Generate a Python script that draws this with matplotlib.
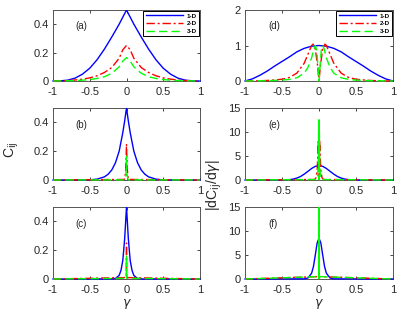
import matplotlib
matplotlib.use("Agg")
import matplotlib.pyplot as plt
from matplotlib.transforms import Bbox, TransformedBbox

# ---- data ----
# (a) C_ij, wide
ga = [-1, -0.9, -0.8, -0.7, -0.6, -0.5, -0.4, -0.3, -0.2, -0.1, -0.05, 0,
      0.05, 0.1, 0.2, 0.3, 0.4, 0.5, 0.6, 0.7, 0.8, 0.9, 1]
a1 = [0, 0.001, 0.006, 0.02, 0.048, 0.09, 0.15, 0.225, 0.31, 0.40, 0.45, 0.5,
      0.45, 0.40, 0.31, 0.225, 0.15, 0.09, 0.048, 0.02, 0.006, 0.001, 0]
a2 = [0, 0.001, 0.003, 0.007, 0.013, 0.022, 0.037, 0.06, 0.095, 0.16, 0.22, 0.25,
      0.22, 0.16, 0.095, 0.06, 0.037, 0.022, 0.013, 0.007, 0.003, 0.001, 0]
a3 = [0, 0.0005, 0.0015, 0.003, 0.006, 0.01, 0.018, 0.03, 0.055, 0.10, 0.14, 0.165,
      0.14, 0.10, 0.055, 0.03, 0.018, 0.01, 0.006, 0.003, 0.0015, 0.0005, 0]

# (b) C_ij, medium
gb = [-1, -0.5, -0.4, -0.3, -0.25, -0.2, -0.15, -0.1, -0.05, -0.025, 0,
      0.025, 0.05, 0.1, 0.15, 0.2, 0.25, 0.3, 0.4, 0.5, 1]
b1 = [0, 0.001, 0.006, 0.022, 0.04, 0.07, 0.12, 0.2, 0.33, 0.41, 0.5,
      0.41, 0.33, 0.2, 0.12, 0.07, 0.04, 0.022, 0.006, 0.001, 0]
gbs = [-1, -0.03, -0.02, -0.01, -0.005, 0, 0.005, 0.01, 0.02, 0.03, 1]
b2 = [0, 0.004, 0.02, 0.08, 0.16, 0.25, 0.16, 0.08, 0.02, 0.004, 0]
b3 = [0, 0.001, 0.006, 0.03, 0.08, 0.165, 0.08, 0.03, 0.006, 0.001, 0]

# (c) C_ij, narrow
gc = [-1, -0.2, -0.15, -0.1, -0.075, -0.05, -0.025, 0,
      0.025, 0.05, 0.075, 0.1, 0.15, 0.2, 1]
c1 = [0, 0.0005, 0.004, 0.025, 0.06, 0.13, 0.28, 0.5,
      0.28, 0.13, 0.06, 0.025, 0.004, 0.0005, 0]
gcs = [-1, -0.003, -0.001, 0, 0.001, 0.003, 1]
c2 = [0, 0.01, 0.1, 0.25, 0.1, 0.01, 0]
c3 = [0, 0.005, 0.06, 0.165, 0.06, 0.005, 0]

# (d) |dC/dgamma|, wide
gd1 = [-1, -0.9, -0.8, -0.7, -0.6, -0.5, -0.4, -0.3, -0.2, -0.1, 0,
       0.1, 0.2, 0.3, 0.4, 0.5, 0.6, 0.7, 0.8, 0.9, 1]
d1 = [0, 0.06, 0.16, 0.28, 0.42, 0.55, 0.68, 0.82, 0.92, 0.98, 1.0,
      0.98, 0.92, 0.82, 0.68, 0.55, 0.42, 0.28, 0.16, 0.06, 0]
gd2 = [-1, -0.9, -0.8, -0.7, -0.6, -0.5, -0.4, -0.3, -0.2, -0.15, -0.1, -0.08, -0.05, -0.02, 0,
       0.02, 0.05, 0.08, 0.1, 0.15, 0.2, 0.3, 0.4, 0.5, 0.6, 0.7, 0.8, 0.9, 1]
d2 = [0, 0.002, 0.007, 0.015, 0.03, 0.05, 0.1, 0.22, 0.5, 0.75, 1.0, 1.04, 0.9, 0.45, 0,
      0.45, 0.9, 1.04, 1.0, 0.75, 0.5, 0.22, 0.1, 0.05, 0.03, 0.015, 0.007, 0.002, 0]
gd3 = [-1, -0.7, -0.5, -0.4, -0.3, -0.2, -0.15, -0.1, -0.07, -0.05, -0.03, -0.01, 0,
       0.01, 0.03, 0.05, 0.07, 0.1, 0.15, 0.2, 0.3, 0.4, 0.5, 0.7, 1]
d3 = [0, 0.008, 0.025, 0.045, 0.09, 0.22, 0.38, 0.65, 0.9, 1.0, 0.85, 0.3, 0,
      0.3, 0.85, 1.0, 0.9, 0.65, 0.38, 0.22, 0.09, 0.045, 0.025, 0.008, 0]

# (e) |dC/dgamma|, medium
ge1 = [-1, -0.5, -0.4, -0.35, -0.3, -0.25, -0.2, -0.15, -0.1, -0.05, 0,
       0.05, 0.1, 0.15, 0.2, 0.25, 0.3, 0.35, 0.4, 0.5, 1]
e1 = [0, 0.015, 0.08, 0.18, 0.4, 0.72, 1.22, 1.8, 2.4, 2.85, 3.0,
      2.85, 2.4, 1.8, 1.22, 0.72, 0.4, 0.18, 0.08, 0.015, 0]
ge2 = [-1, -0.06, -0.04, -0.025, -0.015, -0.01, -0.005, 0,
       0.005, 0.01, 0.015, 0.025, 0.04, 0.06, 1]
e2 = [0, 0.1, 0.5, 2.0, 5.5, 8.3, 5.0, 0,
      5.0, 8.3, 5.5, 2.0, 0.5, 0.1, 0]
ge3 = [-1, -0.03, -0.02, -0.01, -0.006, -0.004, -0.002, 0,
       0.002, 0.004, 0.006, 0.01, 0.02, 0.03, 1]
e3 = [0, 0.1, 0.6, 3.0, 8.0, 12.5, 7.0, 0,
      7.0, 12.5, 8.0, 3.0, 0.6, 0.1, 0]

# (f) |dC/dgamma|, narrow
gf1 = [-1, -0.2, -0.15, -0.1, -0.075, -0.05, -0.025, 0,
       0.025, 0.05, 0.075, 0.1, 0.15, 0.2, 1]
f1 = [0, 0.03, 0.2, 1.2, 2.6, 5.0, 7.5, 8.5,
      7.5, 5.0, 2.6, 1.2, 0.2, 0.03, 0]
gfs = [-1, -0.003, -0.001, 0, 0.001, 0.003, 1]
f2 = [0, 0.5, 30, 0, 30, 0.5, 0]
f3 = [0, 0.5, 40, 0, 40, 0.5, 0]

labels = ["1-D", "2-D", "3-D"]
colors = ["#0000ff", "#ff0000", "#00ff00"]
dashes = [None, (6, 2, 1.5, 2), (6, 3)]

panels = [
    ("(a)", [(ga, a1), (ga, a2), (ga, a3)], 0.5, [0, 0.2, 0.4]),
    ("(b)", [(gb, b1), (gbs, b2), (gbs, b3)], 0.5, [0, 0.2, 0.4]),
    ("(c)", [(gc, c1), (gcs, c2), (gcs, c3)], 0.5, [0, 0.2, 0.4]),
    ("(d)", [(gd1, d1), (gd2, d2), (gd3, d3)], 2, [0, 1, 2]),
    ("(e)", [(ge1, e1), (ge2, e2), (ge3, e3)], 15, [0, 5, 10, 15]),
    ("(f)", [(gf1, f1), (gfs, f2), (gfs, f3)], 15, [0, 5, 10, 15]),
]

W, H = 403, 319
fig = plt.figure(figsize=(W / 100, H / 100), dpi=100)
plt.rcParams['font.family'] = ['Liberation Sans', 'DejaVu Sans']
gray = "#262626"

lefts = [53, 245]
widths = [147, 148]
rows = [(10, 81), (108, 180), (207, 279)]

for i, (tag, series, ymax, yt) in enumerate(panels):
    col = i // 3
    r = i % 3
    top, bot = rows[r]
    ax = fig.add_axes([lefts[col] / W, 1 - bot / H, widths[col] / W, (bot - top) / H])
    clipbox = TransformedBbox(Bbox([[-0.01, -0.03], [1.01, 1.0]]), ax.transAxes)
    for k, (x, y) in enumerate(series):
        ln, = ax.plot(x, y, color=colors[k], lw=1.0, label=labels[k], zorder=3)
        if dashes[k] is not None:
            ln.set_dashes(dashes[k])
        ln.set_clip_box(clipbox)
    ax.set_xlim(-1, 1)
    ax.set_ylim(0, ymax)
    ax.set_xticks([-1, -0.5, 0, 0.5, 1])
    ax.set_xticklabels(["-1", "-0.5", "0", "0.5", "1"])
    ax.set_yticks(yt)
    ax.set_yticklabels([("%g" % v) for v in yt])
    ax.tick_params(direction="in", top=True, right=True, length=2.5, width=0.6,
                   labelsize=8, colors=gray)
    ax.tick_params(axis="x", pad=4)
    ax.tick_params(axis="y", pad=3)
    for s in ax.spines.values():
        s.set_color("#555555")
        s.set_linewidth(0.7)
    ax.text(0.155, 0.77, tag, transform=ax.transAxes, fontsize=7, color=gray,
            va="center")
    if r == 0:
        leg = ax.legend(loc="upper right", fontsize=4.5, handlelength=6,
                        fancybox=False, edgecolor="black", framealpha=1,
                        borderpad=0.35, labelspacing=0.4, handletextpad=0.6,
                        borderaxespad=0.15)
        leg.get_frame().set_linewidth(0.7)
        for t in leg.get_texts():
            t.set_fontweight("bold")
    if r == 2:
        ax.set_xlabel(r"$\gamma$", fontsize=9, color=gray, labelpad=2)

fig.text(12 / W, 1 - 150 / H, r"C$_{\rm ij}$", rotation=90, fontsize=10,
         color=gray, ha="center", va="center")
fig.text(214 / W, 1 - 185 / H, r"|dC$_{\rm ij}$/d$\gamma$|", rotation=90,
         fontsize=10, color=gray, ha="center", va="center")

plt.savefig("out.png", dpi=100)
